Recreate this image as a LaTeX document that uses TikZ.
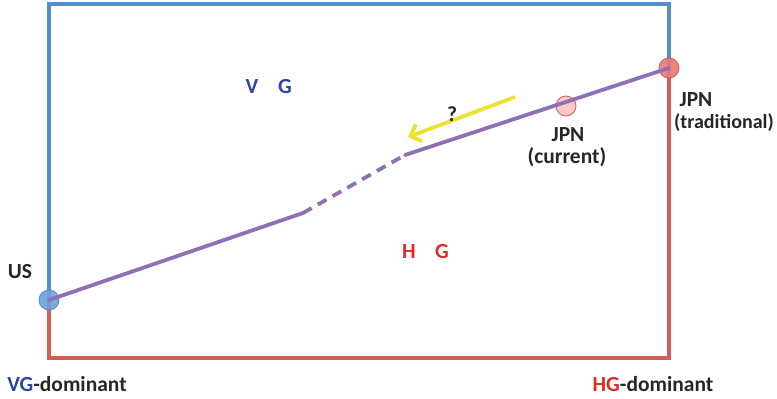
\documentclass[tikz,border=0pt]{standalone}
\usepackage{fontspec}
\setmainfont{Carlito}
\usetikzlibrary{arrows.meta}
\definecolor{bline}{RGB}{82,141,204}
\definecolor{rline}{RGB}{212,92,88}
\definecolor{pline}{RGB}{144,112,180}
\definecolor{yarrow}{RGB}{236,226,50}
\definecolor{btext}{RGB}{46,70,160}
\definecolor{rtext}{RGB}{222,44,40}
\definecolor{usfill}{RGB}{110,160,220}
\definecolor{jtfill}{RGB}{236,120,118}
\definecolor{jcfill}{RGB}{250,200,200}
\tikzset{
  lbl/.style={font=\fontsize{21.5}{23}\selectfont\bfseries, inner sep=0pt, text=black!85},
  pt/.style={circle, minimum size=20pt, inner sep=0pt},
  frameb/.style={bline, line width=3.2pt},
  framer/.style={rline, line width=3.2pt},
  pl/.style={pline, line width=3.8pt, line cap=round}
}
\begin{document}
\begin{tikzpicture}[x=1pt,y=-1pt]
\useasboundingbox (0,0) rectangle (777,399);
\coordinate (ctl) at (49,4);
\coordinate (ctr) at (669,4);
\coordinate (cbl) at (49,358);
\coordinate (cbr) at (669,358);
\coordinate (cm1) at (303,213);
\coordinate (cm2) at (405,155);
% points
\node[pt] (us) at (49,300) {};
\node[pt] (jt) at (669,68) {};
% frame
\draw[frameb] (us.center) -- (ctl) -- (ctr) -- (jt.center);
\draw[framer] (jt.center) -- (cbr) -- (cbl) -- (us.center);
% circles over frame
\node[pt, fill=usfill, draw=bline, line width=0.8pt, fill opacity=0.9] at (us) {};
\node[pt, fill=jtfill, draw=rline, line width=0.8pt, fill opacity=0.9] at (jt) {};
\node[pt, fill=jcfill, draw=rline, line width=0.8pt] (jc) at (566,106) {};
% purple path
\draw[pl] (us.center) -- (cm1);
\draw[pl, dash pattern=on 10pt off 7pt, line cap=butt] (cm1) -- (cm2);
\draw[pl] (cm2) -- (jt.center);
% yellow arrow
\coordinate (ya) at (515,97);
\coordinate (yb) at (408,137);
\draw[yarrow, line width=3.8pt, -{Straight Barb[length=9pt,width=18pt,line width=3.8pt]}] (ya) -- (yb);
\node[lbl] (q) at (452,114) {?};
% labels
\node[lbl, text=btext] (v) at (252,87) {V};
\node[lbl, text=btext] (g1) at (285,87) {G};
\node[lbl, text=rtext] (h) at (409,252) {H};
\node[lbl, text=rtext] (g2) at (442,252) {G};
\node[lbl] (uslbl) at (20,272) {US};
\node[lbl] (jtl1) at (696,100) {JPN};
\node[lbl, font=\fontsize{20}{22}\selectfont\bfseries] (jtl2) at (724,123) {(traditional)};
\node[lbl] (jcl1) at (568,135) {JPN};
\node[lbl] (jcl2) at (567,157) {(current)};
\node[lbl] (vgd) at (67,384) {\textcolor{btext}{VG}-dominant};
\node[lbl] (hgd) at (653,384) {\textcolor{rtext}{HG}-dominant};
\end{tikzpicture}
\end{document}
